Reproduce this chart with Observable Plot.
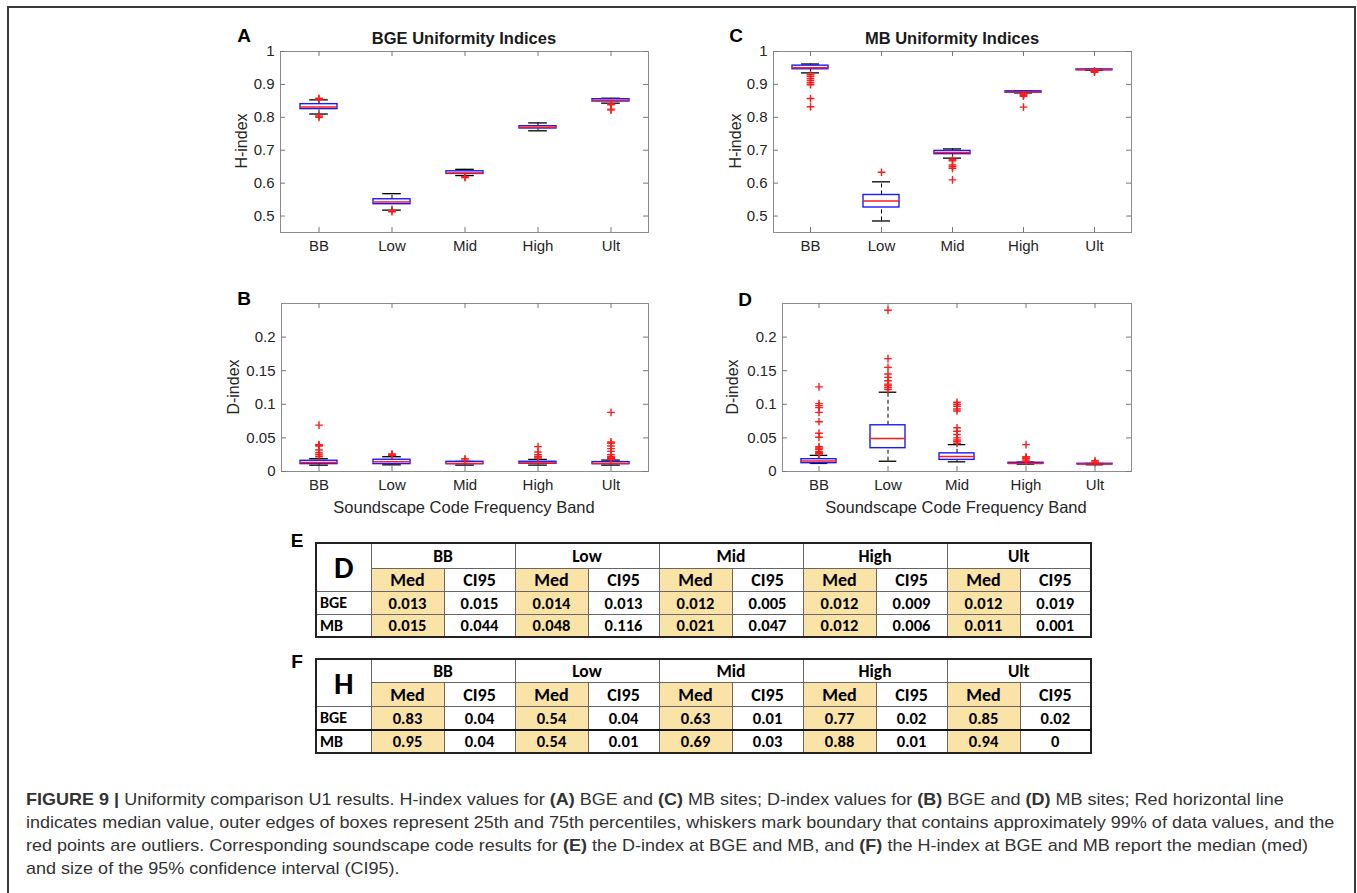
<!DOCTYPE html>
<html><head><meta charset="utf-8">
<script src="https://cdn.jsdelivr.net/npm/d3@7"></script>
<script src="https://cdn.jsdelivr.net/npm/@observablehq/plot@0.6"></script>
<style>
html,body{margin:0;padding:0;background:#fff;}
body{width:1357px;height:893px;overflow:hidden;position:relative;font-family:"Liberation Sans",Arial,sans-serif;}
#outer{position:absolute;left:7px;top:6px;width:1345px;height:1000px;border:2px solid #3a3a3a;}
.c{position:absolute;line-height:1;white-space:nowrap;transform:translate(-50%,-50%);}
.letter{font-weight:bold;font-size:19px;color:#000;}
.ptitle{font-weight:bold;font-size:16.5px;color:#1a1a1a;}
.ylab{font-size:16px;color:#262626;transform:translate(-50%,-50%) rotate(-90deg);}
.xlab{font-size:16.5px;color:#262626;}
table.t{position:absolute;border-collapse:collapse;table-layout:fixed;font-family:"Carlito","Liberation Sans Narrow","Open Sans",sans-serif;font-weight:bold;color:#000;border:2px solid #222;}
table.t td{border:1px solid #666;text-align:center;vertical-align:middle;padding:0;overflow:hidden;white-space:nowrap;}
table.t td.y{background:#fae3a6;}
table.t td.g{border-left:1.5px solid #222;}
table.t td.rl{text-align:left;padding-left:3px;font-size:16px;}
table.t td.big{font-size:31px;}
table.t td.hd{font-size:17.5px;font-weight:600;}
table.t td.sub{font-size:18px;}
table.t td.v{font-size:16.5px;}
table.t tr.thick td{border-top:2px solid #111;}
#caption{position:absolute;left:26px;top:788px;font-family:"Liberation Sans Narrow","Liberation Sans",Arial,sans-serif;font-size:17px;color:#333;}
#caption div{height:23px;line-height:23px;white-space:nowrap;transform-origin:0 50%;}
</style>
</head><body>
<div id="outer"></div>
<script>
// ---------- data ----------
const bands = ["BB", "Low", "Mid", "High", "Ult"];

// Panel A: BGE H-index
const bgeH_q1  = [0.825, 0.536, 0.628, 0.766, 0.848];
const bgeH_med = [0.831, 0.543, 0.631, 0.770, 0.852];
const bgeH_q3  = [0.840, 0.551, 0.636, 0.773, 0.855];
const bgeH_lo  = [0.810, 0.518, 0.623, 0.759, 0.843];
const bgeH_hi  = [0.853, 0.568, 0.642, 0.783, 0.858];
const bgeH_out = [[0.858, 0.855, 0.804, 0.800], [0.513, 0.516], [0.620, 0.617], [], [0.841, 0.838, 0.825, 0.822]];

// Panel C: MB H-index
const mbH_q1  = [0.946, 0.526, 0.688, 0.875, 0.9435];
const mbH_med = [0.951, 0.546, 0.693, 0.877, 0.9445];
const mbH_q3  = [0.957, 0.564, 0.698, 0.879, 0.9455];
const mbH_lo  = [0.935, 0.485, 0.676, 0.874, 0.943];
const mbH_hi  = [0.962, 0.604, 0.704, 0.880, 0.946];
const mbH_out = [[0.930, 0.925, 0.918, 0.912, 0.905, 0.899, 0.857, 0.832], [0.633], [0.672, 0.668, 0.655, 0.650, 0.645, 0.610], [0.870, 0.867, 0.864, 0.831], [0.941, 0.939, 0.937]];

// Panel B: BGE D-index
const bgeD_q1  = [0.011, 0.011, 0.011, 0.0115, 0.011];
const bgeD_med = [0.0134, 0.0145, 0.012, 0.0125, 0.012];
const bgeD_q3  = [0.016, 0.0175, 0.0144, 0.0145, 0.014];
const bgeD_lo  = [0.0094, 0.0099, 0.0095, 0.0095, 0.0095];
const bgeD_hi  = [0.019, 0.022, 0.015, 0.018, 0.017];
const bgeD_out = [[0.022, 0.025, 0.028, 0.032, 0.038, 0.039, 0.040, 0.069], [0.024, 0.025, 0.026], [0.017, 0.019], [0.020, 0.022, 0.025, 0.029, 0.037], [0.018, 0.019, 0.020, 0.021, 0.022, 0.025, 0.030, 0.034, 0.038, 0.042, 0.044, 0.088]];

// Panel D: MB D-index
const mbD_q1  = [0.0124, 0.0347, 0.0173, 0.0115, 0.0105];
const mbD_med = [0.0158, 0.049, 0.0223, 0.012, 0.011];
const mbD_q3  = [0.0183, 0.0688, 0.027, 0.013, 0.0115];
const mbD_lo  = [0.012, 0.0153, 0.0144, 0.011, 0.010];
const mbD_hi  = [0.024, 0.118, 0.040, 0.014, 0.012];
const mbD_out = [[0.026, 0.027, 0.028, 0.030, 0.033, 0.035, 0.037, 0.051, 0.057, 0.074, 0.088, 0.095, 0.098, 0.101, 0.126], [0.122, 0.125, 0.128, 0.130, 0.135, 0.140, 0.145, 0.155, 0.168, 0.240], [0.042, 0.045, 0.047, 0.050, 0.055, 0.060, 0.065, 0.090, 0.093, 0.097, 0.100, 0.103], [0.015, 0.017, 0.019, 0.020, 0.022, 0.040], [0.013, 0.014, 0.016]];

const hTicks = [0.5, 0.6, 0.7, 0.8, 0.9, 1];
const dTicks = [0, 0.05, 0.1, 0.15, 0.2];

// Tables E (D-index) and F (H-index)
const tblD_medBGE = ["0.013", "0.014", "0.012", "0.012", "0.012"];
const tblD_ciBGE  = ["0.015", "0.013", "0.005", "0.009", "0.019"];
const tblD_medMB  = ["0.015", "0.048", "0.021", "0.012", "0.011"];
const tblD_ciMB   = ["0.044", "0.116", "0.047", "0.006", "0.001"];
const tblH_medBGE = ["0.83", "0.54", "0.63", "0.77", "0.85"];
const tblH_ciBGE  = ["0.04", "0.04", "0.01", "0.02", "0.02"];
const tblH_medMB  = ["0.95", "0.54", "0.69", "0.88", "0.94"];
const tblH_ciMB   = ["0.04", "0.01", "0.03", "0.01", "0"];

// ---------- helpers ----------
function place(text, cx, cy, cls) {
  const d = document.createElement("div");
  d.className = "c " + cls;
  d.textContent = text;
  d.style.left = cx + "px";
  d.style.top = cy + "px";
  document.body.appendChild(d);
}

function boxPanel(cfg) {
  const {q1, med, q3, lo, hi, out, yDomain, yTicks, frame} = cfg;
  const fw = frame.r - frame.l, fh = frame.b - frame.t;
  const mL = 70, mR = 10, mT = 10, mB = 32;
  const rows = bands.map((b, i) => ({band: b, q1: q1[i], med: med[i], q3: q3[i], lo: lo[i], hi: hi[i]}));
  const pts = bands.flatMap((b, i) => out[i].map(v => ({band: b, v})));
  const bw = fw / bands.length * 0.5;
  const svg = Plot.plot({
    width: fw + mL + mR, height: fh + mT + mB,
    marginLeft: mL, marginRight: mR, marginTop: mT, marginBottom: mB,
    style: {fontFamily: '"Liberation Sans", Arial, sans-serif', fontSize: "15px", color: "#262626", background: "transparent", overflow: "visible"},
    x: {type: "band", domain: bands, paddingInner: 0.5, paddingOuter: 0.25, label: null},
    y: {domain: yDomain, label: null},
    marks: [
      Plot.frame({stroke: "#8c8c8c"}),
      Plot.ruleY(yTicks, {y: d => d, insetRight: fw - 5, stroke: "#777"}),
      Plot.ruleY(yTicks, {y: d => d, insetLeft: fw - 5, stroke: "#777"}),
      Plot.ruleX(bands, {x: d => d, insetTop: fh - 5, stroke: "#777"}),
      Plot.ruleX(bands, {x: d => d, insetBottom: fh - 5, stroke: "#777"}),
      Plot.axisX({tickSize: 0, tickPadding: 8, label: null}),
      Plot.axisY({ticks: yTicks, tickSize: 0, tickPadding: 6, tickFormat: d => String(d), label: null}),
      Plot.ruleX(rows, {x: "band", y1: "lo", y2: "q1", stroke: "#000", strokeDasharray: "4,3"}),
      Plot.ruleX(rows, {x: "band", y1: "q3", y2: "hi", stroke: "#000", strokeDasharray: "4,3"}),
      Plot.tickY(rows, {x: "band", y: "lo", stroke: "#000", strokeWidth: 1.3, inset: bw / 4}),
      Plot.tickY(rows, {x: "band", y: "hi", stroke: "#000", strokeWidth: 1.3, inset: bw / 4}),
      Plot.barY(rows, {x: "band", y1: "q1", y2: "q3", fill: "white", stroke: "#1a1aff", strokeWidth: 1.4}),
      Plot.tickY(rows, {x: "band", y: "med", stroke: "#ff1a1a", strokeWidth: 1.5}),
      Plot.dot(pts, {x: "band", y: "v", symbol: "plus", stroke: "#ff1a1a", strokeWidth: 1.4, r: 2.6})
    ]
  });
  svg.style.position = "absolute";
  svg.style.left = (frame.l - mL) + "px";
  svg.style.top = (frame.t - mT) + "px";
  document.body.appendChild(svg);
}

// ---------- panels ----------
boxPanel({q1: bgeH_q1, med: bgeH_med, q3: bgeH_q3, lo: bgeH_lo, hi: bgeH_hi, out: bgeH_out,
  yDomain: [0.45, 1], yTicks: hTicks, frame: {l: 280, r: 648, t: 51, b: 232}});
boxPanel({q1: mbH_q1, med: mbH_med, q3: mbH_q3, lo: mbH_lo, hi: mbH_hi, out: mbH_out,
  yDomain: [0.45, 1], yTicks: hTicks, frame: {l: 773, r: 1131, t: 51, b: 232}});
boxPanel({q1: bgeD_q1, med: bgeD_med, q3: bgeD_q3, lo: bgeD_lo, hi: bgeD_hi, out: bgeD_out,
  yDomain: [0, 0.25], yTicks: dTicks, frame: {l: 281, r: 648, t: 303, b: 471}});
boxPanel({q1: mbD_q1, med: mbD_med, q3: mbD_q3, lo: mbD_lo, hi: mbD_hi, out: mbD_out,
  yDomain: [0, 0.25], yTicks: dTicks, frame: {l: 782, r: 1131, t: 303, b: 471}});

place("A", 244, 35, "letter");
place("B", 244, 298, "letter");
place("C", 736, 35, "letter");
place("D", 745, 299, "letter");
place("BGE Uniformity Indices", 464, 38, "ptitle");
place("MB Uniformity Indices", 952, 38, "ptitle");
place("H-index", 242, 141, "ylab");
place("H-index", 736, 141, "ylab");
place("D-index", 234, 387, "ylab");
place("D-index", 733, 387, "ylab");
place("Soundscape Code Frequency Band", 464, 507, "xlab");
place("Soundscape Code Frequency Band", 956, 507, "xlab");
place("E", 297, 540, "letter");
place("F", 297, 661, "letter");

// ---------- tables ----------
function makeTable(letter, medBGE, ciBGE, medMB, ciMB, top, heights, thickMB) {
  const t = document.createElement("table");
  t.className = "t";
  t.style.left = "315px";
  t.style.top = top + "px";
  t.style.width = "775px";
  let html = '<colgroup><col style="width:55px">' + bands.map(() => '<col style="width:73px"><col style="width:71px">').join("") + '</colgroup>';
  html += `<tr style="height:${heights[0]}px"><td class="big" rowspan="2">${letter}</td>` +
    bands.map(b => `<td class="hd g" colspan="2">${b}</td>`).join("") + "</tr>";
  html += `<tr style="height:${heights[1]}px">` + bands.map(() => '<td class="sub y g">Med</td><td class="sub">CI95</td>').join("") + "</tr>";
  html += `<tr style="height:${heights[2]}px"><td class="rl">BGE</td>` + bands.map((b, i) => `<td class="v y g">${medBGE[i]}</td><td class="v">${ciBGE[i]}</td>`).join("") + "</tr>";
  html += `<tr class="${thickMB ? "thick" : ""}" style="height:${heights[3]}px"><td class="rl">MB</td>` + bands.map((b, i) => `<td class="v y g">${medMB[i]}</td><td class="v">${ciMB[i]}</td>`).join("") + "</tr>";
  t.innerHTML = html;
  document.body.appendChild(t);
}
makeTable("D", tblD_medBGE, tblD_ciBGE, tblD_medMB, tblD_ciMB, 542, [25, 22, 23, 23], false);
makeTable("H", tblH_medBGE, tblH_ciBGE, tblH_medMB, tblH_ciMB, 658, [23, 24, 23, 23], true);

// ---------- caption ----------
const captionLines = [
  '<b>FIGURE 9 |</b> Uniformity comparison U1 results. H-index values for <b>(A)</b> BGE and <b>(C)</b> MB sites; D-index values for <b>(B)</b> BGE and <b>(D)</b> MB sites; Red horizontal line',
  'indicates median value, outer edges of boxes represent 25th and 75th percentiles, whiskers mark boundary that contains approximately 99% of data values, and the',
  'red points are outliers. Corresponding soundscape code results for <b>(E)</b> the D-index at BGE and MB, and <b>(F)</b> the H-index at BGE and MB report the median (med)',
  'and size of the 95% confidence interval (CI95).'
];
const cap = document.createElement("div");
cap.id = "caption";
captionLines.forEach(l => { const d = document.createElement("div"); d.innerHTML = "<span>" + l + "</span>"; cap.appendChild(d); });
document.body.appendChild(cap);
function fitCaption() {
  const spans = cap.querySelectorAll("span");
  const w = spans[1].offsetWidth;
  const f = 1308 / w;
  cap.querySelectorAll("div").forEach(d => d.style.transform = `scaleX(${f})`);
}
fitCaption();
if (document.fonts && document.fonts.ready) document.fonts.ready.then(fitCaption);
</script>
</body></html>
